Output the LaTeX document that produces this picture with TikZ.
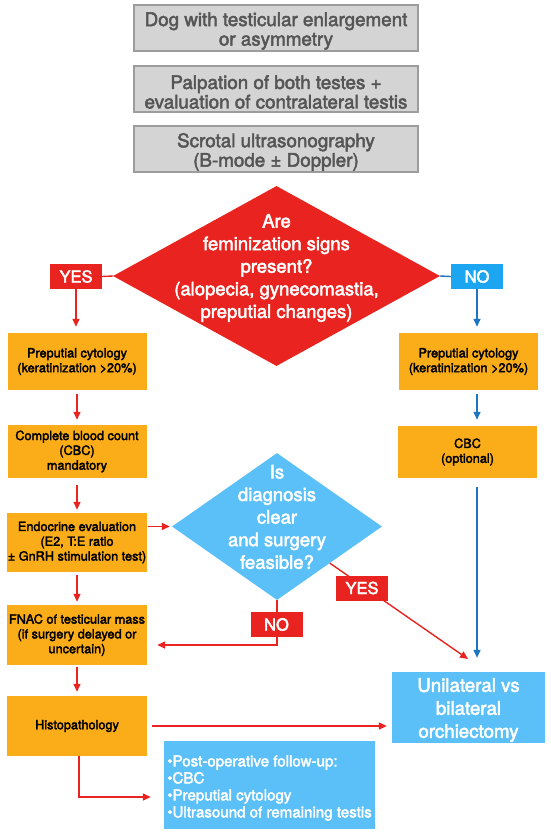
\documentclass[tikz,border=0pt]{standalone}
\usepackage{fontspec}
\setmainfont{TeX Gyre Heros}
\newfontfamily\medfont{TeX Gyre Heros}[FakeBold=2.5]
\usetikzlibrary{shapes.geometric,arrows.meta,calc}
\definecolor{ored}{HTML}{E9231F}
\definecolor{oorange}{HTML}{FAAD19}
\definecolor{lblue}{HTML}{5BC0F7}
\definecolor{nblue}{HTML}{1CA6F2}
\definecolor{dblue}{HTML}{1B75C2}
\definecolor{gfill}{HTML}{D4D4D4}
\definecolor{gborder}{HTML}{9C9C9C}
\definecolor{gtext}{HTML}{555555}
\begin{document}
\begin{tikzpicture}[x=1pt,y=-1pt,
  graybox/.style={draw=gborder, fill=gfill, line width=1.2pt, minimum width=284pt, minimum height=46pt, inner sep=0pt},
  gtxt/.style={text=gtext, align=center, inner sep=0pt, yshift=-3pt, font={\medfont\fontsize{18.8pt}{19.5pt}\selectfont}},
  obox/.style={fill=oorange, inner sep=0pt, align=center, text=black, font={\medfont\fontsize{12.7pt}{14.8pt}\selectfont}},
  dtext/.style={text=white, align=center, inner sep=0pt, font={\medfont\fontsize{18.5pt}{22.6pt}\selectfont}},
  lab/.style={text=white, minimum width=52pt, minimum height=25pt, inner sep=0pt, font={\medfont\fontsize{16.5pt}{18pt}\selectfont}},
  rline/.style={draw=ored, line width=1.4pt},
  bline/.style={draw=dblue, line width=1.4pt},
  rarr/.style={rline, -{Triangle[length=8pt,width=7pt]}},
  barr/.style={bline, -{Triangle[length=8pt,width=7pt]}}
]
\useasboundingbox (0,0) rectangle (550,837);

% top grey boxes
\node[graybox, label={[gtxt]center:{Dog with testicular enlargement\\or asymmetry}}] (g1) at (276,28) {};
\node[graybox, label={[gtxt]center:{Palpation of both testes +\\evaluation of contralateral testis}}] (g2) at (276,89) {};
\node[graybox, label={[gtxt]center:{Scrotal ultrasonography\\(B-mode ± Doppler)}}] (g3) at (276,149) {};

% first decision
\node[diamond, fill=ored, minimum width=327pt, minimum height=180pt, inner sep=0pt] (d1) at (276.5,276) {};
\node[dtext] (d1t) at (276.5,268) {Are\\feminization signs\\present?\\(alopecia, gynecomastia,\\preputial changes)};
\node[lab, fill=ored] (yes1) at (76,276.5) {YES};
\node[lab, fill=nblue] (no1) at (477,276.5) {NO};

% left column
\node[obox, minimum width=139pt, minimum height=57pt] (L1) at (77,361.5) {Preputial cytology\\(keratinization >20\%)};
\node[obox, minimum width=139pt, minimum height=53pt] (L2) at (77,451.5) {Complete blood count\\(CBC)\\mandatory};
\node[obox, minimum width=140pt, minimum height=59pt] (L3) at (77,542.5) {Endocrine evaluation\\(E2, T:E ratio\\± GnRH stimulation test)};
\node[obox, minimum width=140pt, minimum height=60pt] (L4) at (77,635) {FNAC of testicular mass\\(if surgery delayed or\\uncertain)};
\node[obox, minimum width=140pt, minimum height=60pt] (L5) at (77,726) {Histopathology};

% right column
\node[obox, minimum width=139pt, minimum height=57pt] (R1) at (468.5,361.5) {Preputial cytology\\(keratinization >20\%)};
\node[obox, minimum width=139pt, minimum height=52pt] (R2) at (467.5,452) {CBC\\(optional)};

% second decision
\node[diamond, fill=lblue, minimum width=210pt, minimum height=147pt, inner sep=0pt] (D2) at (277,526.5) {};
\node[dtext] (D2t) at (277,517) {Is\\diagnosis\\clear\\and surgery\\feasible?};

% outcomes
\node[fill=lblue, minimum width=153pt, minimum height=71pt, inner sep=0pt,
  label={[text=white, align=center, inner sep=0pt, yshift=-2.5pt, font={\medfont\fontsize{18.7pt}{23pt}\selectfont}]center:{Unilateral vs\\bilateral\\orchiectomy}}] (U) at (468.5,707.5) {};
\node[fill=lblue, minimum width=211pt, minimum height=88pt, inner sep=0pt,
  label={[text=white, align=left, inner sep=0pt, yshift=-3pt, font={\medfont\fontsize{15.1pt}{17pt}\selectfont}]center:{•Post-operative follow-up:\\•CBC\\•Preputial cytology\\•Ultrasound of remaining testis}}] (F) at (269.5,785) {};

% connectors
\draw[rline] (d1.west) -- (yes1.east);
\draw[rarr, shorten >=6pt] (yes1.south) -- (yes1.south |- L1.north);
\draw[bline] (d1.east) -- (no1.west);
\draw[barr, shorten >=6pt] (no1.south) -- (no1.south |- R1.north);
\draw[rarr, shorten <=4pt, shorten >=5pt] (L1) -- (L2);
\draw[barr, shorten <=4pt, shorten >=6pt] (R1.south -| no1.south) -- (R2.north -| no1.south);
\draw[rarr, shorten <=7pt, shorten >=3pt] (L2) -- (L3);
\draw[rarr, shorten <=1pt, shorten >=2pt] (L3.east |- D2.west) -- (D2.west);
\draw[rarr, shorten <=3pt, shorten >=3pt] (L3) -- (L4);
\draw[rarr, shorten >=10pt] (D2.south) |- ([yshift=-10pt]L4.east);
\draw[rarr, shorten <=2pt, shorten >=4pt] (L4) -- (L5);
\draw[rarr, shorten <=5pt, shorten >=5pt] (L5.east) -- (L5.east -| U.west);
\draw[rarr, shorten >=13pt] ([xshift=2pt]L5.south) |- ([yshift=-12pt]F.west);
\draw[barr, shorten <=9pt, shorten >=14pt] (R2.south -| no1.south) -- (U.north -| no1.south);
\coordinate (yesend) at (468,659);
\draw[rarr] (D2) -- (yesend);

% labels on connectors
\node[lab, fill=ored] (no2) at (276.5,624.5) {NO};
\node[lab, fill=ored] (yes2) at (362,588) {YES};
\end{tikzpicture}
\end{document}
